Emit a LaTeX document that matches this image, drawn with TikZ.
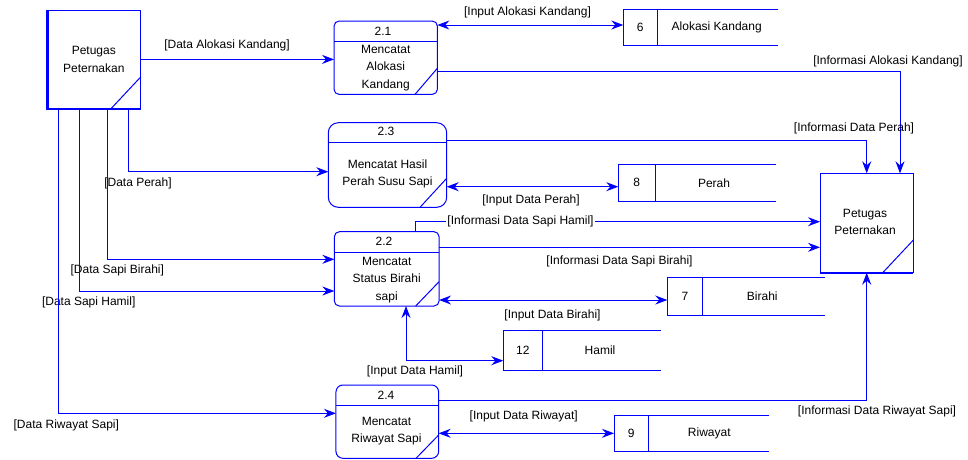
\documentclass[tikz,border=0pt]{standalone}
\usepackage{fontspec}
\setmainfont{Liberation Sans}
\usetikzlibrary{arrows.meta}
\definecolor{dfd}{RGB}{0,0,255}
\begin{document}
\begin{tikzpicture}[x=1pt,y=-1pt,
  font=\fontsize{12}{17.5}\selectfont,
  edge/.style={draw=dfd,line width=1pt},
  tip/.tip={Stealth[length=12pt,width=9pt,inset=4pt]},
  flow/.style={edge,-tip},
  bflow/.style={edge,tip-tip},
  proc/.style={edge,rectangle,inner sep=0pt,outer sep=0pt},
  ent/.style={edge,rectangle,inner sep=0pt,outer sep=0pt},
  store/.style={rectangle,inner sep=0pt,outer sep=0pt},
  lbl/.style={inner sep=0.5pt,text=black},
  txt/.style={align=center,inner sep=0pt,text=black}]

\useasboundingbox (0,0) rectangle (968,459);

% ---------- external entities ----------
\node[ent,minimum width=94.3pt,minimum height=99pt] (e1) at (93.8,59.5) {};
\draw[dfd,line width=3pt] ([xshift=1pt]e1.north west) -- ([xshift=1pt]e1.south west);
\draw[dfd,line width=2pt] (e1.south west) -- (e1.south east);
\draw[edge] (e1.south -| 110.7,0) -- (e1.east |- 0,76.7);
\node[txt,font=\fontsize{12}{18}\selectfont] at (93.8,59) {Petugas\\Peternakan};

\node[ent,minimum width=93.3pt,minimum height=99.4pt] (e2) at (866.7,223) {};
\draw[dfd,line width=2pt] (e2.south west) -- (e2.south east);
\draw[edge] (e2.south -| 882.7,0) -- (e2.east |- 0,240);
\node[txt,font=\fontsize{12}{17}\selectfont] at (865,221.7) {Petugas\\Peternakan};

% ---------- processes ----------
\node[proc,rounded corners=5pt,minimum width=103.3pt,minimum height=73.3pt] (p21) at (385.7,57.7) {};
\draw[edge] (p21.west |- 0,41.3) -- (p21.east |- 0,41.3);
\draw[edge] (p21.south -| 415,0) -- (p21.east |- 0,68.3);
\node[txt] at (383,31.7) {2.1};
\node[txt] at (385.7,67.8) {Mencatat\\Alokasi\\Kandang};

\node[proc,rounded corners=10pt,minimum width=118.4pt,minimum height=84.6pt] (p23) at (387.5,165) {};
\draw[edge] (p23.west |- 0,142.7) -- (p23.east |- 0,142.7);
\draw[edge] (p23.south -| 420,0) -- (p23.east |- 0,178.3);
\node[txt] at (386,131.7) {2.3};
\node[txt] at (387.5,174) {Mencatat Hasil\\Perah Susu Sapi};

\node[proc,rounded corners=5pt,minimum width=104.7pt,minimum height=74.3pt] (p22) at (386.7,268.85) {};
\draw[edge] (p22.west |- 0,252.3) -- (p22.east |- 0,252.3);
\draw[edge] (p22.south -| 415.7,0) -- (p22.east |- 0,281.7);
\node[txt] at (384,241.7) {2.2};
\node[txt] at (386.7,280) {Mencatat\\Status Birahi\\sapi};

\node[proc,rounded corners=7pt,minimum width=102.7pt,minimum height=73.3pt] (p24) at (387.3,421.65) {};
\draw[edge] (p24.west |- 0,405) -- (p24.east |- 0,405);
\draw[edge] (p24.south -| 416,0) -- (p24.east |- 0,435);
\node[txt] at (386,395) {2.4};
\node[txt] at (386.5,431.3) {Mencatat\\Riwayat Sapi};

% ---------- data stores ----------
\node[store,minimum width=155pt,minimum height=36.7pt] (s6) at (700.8,27.35) {};
\draw[edge] (s6.north east) -- (s6.north west) -- (s6.south west) -- (s6.south east);
\draw[edge] (s6.north -| 657.3,0) -- (s6.south -| 657.3,0);
\node[txt] at (640.3,27.35) {6};
\node[txt] at (716.7,27.35) {Alokasi Kandang};

\node[store,minimum width=157.7pt,minimum height=37.7pt] (s8) at (697.15,182.85) {};
\draw[edge] (s8.north east) -- (s8.north west) -- (s8.south west) -- (s8.south east);
\draw[edge] (s8.north -| 655,0) -- (s8.south -| 655,0);
\node[txt] at (636.65,182.85) {8};
\node[txt] at (714,182.85) {Perah};

\node[store,minimum width=157.7pt,minimum height=37.3pt] (s7) at (746.15,296.35) {};
\draw[edge] (s7.north east) -- (s7.north west) -- (s7.south west) -- (s7.south east);
\draw[edge] (s7.north -| 702.7,0) -- (s7.south -| 702.7,0);
\node[txt] at (685,296.35) {7};
\node[txt] at (762.3,296.35) {Birahi};

\node[store,minimum width=157.7pt,minimum height=40pt] (s12) at (582.15,350) {};
\draw[edge] (s12.north east) -- (s12.north west) -- (s12.south west) -- (s12.south east);
\draw[edge] (s12.north -| 542.3,0) -- (s12.south -| 542.3,0);
\node[txt] at (522.8,350) {12};
\node[txt] at (600,350) {Hamil};

\node[store,minimum width=155.3pt,minimum height=36pt] (s9) at (691.65,433.7) {};
\draw[edge] (s9.north east) -- (s9.north west) -- (s9.south west) -- (s9.south east);
\draw[edge] (s9.north -| 648.3,0) -- (s9.south -| 648.3,0);
\node[txt] at (631.15,433.7) {9};
\node[txt] at (709.3,433.7) {Riwayat};

% ---------- data flows ----------
\draw[flow] (e1.east |- 0,59.4) -- (p21.west |- 0,59.4);
\node[lbl] at (227,45) {[Data Alokasi Kandang]};

\draw[bflow] (p21.east |- 0,25) -- (s6.west |- 0,25);
\node[lbl] at (527.5,12.3) {[Input Alokasi Kandang]};

\draw[flow] (p21.east |- 0,71.7) -| (e2.north -| 900,0);
\node[lbl] at (888,61.7) {[Informasi Alokasi Kandang]};

\draw[flow] (p23.east |- 0,140.7) -| (e2.north);
\node[lbl] at (854,128.3) {[Informasi Data Perah]};

\draw[flow] (e1.south -| 128,0) |- (p23.west |- 0,171.7);
\node[lbl] at (138,183.3) {[Data Perah]};

\draw[bflow] (p23.east |- 0,186.7) -- (s8.west |- 0,186.7);
\node[lbl] at (531,200.7) {[Input Data Perah]};

\draw[flow] (p22.north -| 415,0) |- (e2.west |- 0,221.7);
\node[lbl,fill=white,inner xsep=1.5pt] at (520.5,221.7) {[Informasi Data Sapi Hamil]};

\draw[flow] (p22.east |- 0,247.3) -- (e2.west |- 0,247.3);
\node[lbl] at (619.5,261.5) {[Informasi Data Sapi Birahi]};

\draw[flow] (e1.south -| 107.7,0) |- (p22.west |- 0,259.3);
\node[lbl] at (117.3,270) {[Data Sapi Birahi]};

\draw[flow] (e1.south -| 79.3,0) |- (p22.west |- 0,291);
\node[lbl] at (88.7,302.7) {[Data Sapi Hamil]};

\draw[bflow] (p22.east |- 0,300) -- (s7.west |- 0,300);
\node[lbl] at (552.5,315) {[Input Data Birahi]};

\draw[bflow] (p22.south -| 406,0) |- (s12.west |- 0,360.7);
\node[lbl] at (415,371.7) {[Input Data Hamil]};

\draw[flow] (e1.south -| 58.3,0) |- (p24.west |- 0,413.3);
\node[lbl] at (66.3,425) {[Data Riwayat Sapi]};

\draw[flow] (p24.east |- 0,400) -| (e2.south);
\node[lbl] at (877,411.7) {[Informasi Data Riwayat Sapi]};

\draw[bflow] (p24.east |- 0,433.3) -- (s9.west |- 0,433.3);
\node[lbl] at (523.7,416.7) {[Input Data Riwayat]};

\end{tikzpicture}
\end{document}
